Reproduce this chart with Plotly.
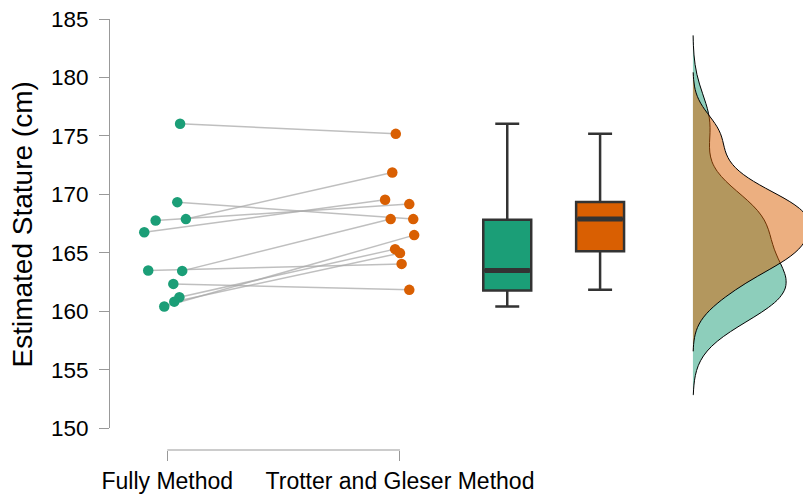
import numpy as np
import plotly.graph_objects as go

# ---- data ----
methods = ["Fully Method", "Trotter and Gleser Method"]
fully = [176.04, 169.34, 167.77, 167.89, 166.77, 163.49, 163.46, 162.35, 161.21, 160.83, 160.41]
trotter = [175.18, 167.89, 169.17, 171.87, 169.54, 164.06, 167.89, 161.84, 165.32, 164.98, 166.52]
jitter_fully = [0.055, 0.043, -0.050, 0.080, -0.099, -0.082, 0.064, 0.026, 0.052, 0.030, -0.013]
jitter_trotter = [-0.018, 0.057, 0.040, -0.033, -0.064, 0.007, -0.040, 0.040, -0.021, 0.0, 0.061]
y_ticks = [150, 155, 160, 165, 170, 175, 180, 185]

colors = ["#1b9e77", "#d95f02"]
dens_fill = ["rgba(27,158,119,0.5)", "rgba(217,95,2,0.5)"]
FONT = "Liberation Sans, Arial, sans-serif"

cat_pos = [1, 2]
box_pos = [2.461, 2.860]
dens_pos = 3.259
box_w = 0.206

series = [fully, trotter]
jitters = [jitter_fully, jitter_trotter]


def nrd0(v):
    v = np.asarray(v, dtype=float)
    sd = v.std(ddof=1)
    q75, q25 = np.percentile(v, [75, 25])
    lo = min(sd, (q75 - q25) / 1.34)
    return 0.9 * lo * len(v) ** -0.2


fig = go.Figure()

# density (half violins), shared density scale (width left automatic so scalegroup applies)
for vals, fc, nm in zip(series, dens_fill, methods):
    bw = nrd0(vals)
    fig.add_trace(go.Violin(
        y=vals, x0=dens_pos, name=nm, side="positive", orientation="v",
        bandwidth=bw, spanmode="manual", span=[min(vals) - 3 * bw, max(vals) + 3 * bw],
        scalegroup="dens", scalemode="width",
        fillcolor=fc, line=dict(color="black", width=1),
        points=False, box_visible=False, meanline_visible=False,
        showlegend=False, hoverinfo="skip",
    ))

# box plots
for vals, c, p, nm in zip(series, colors, box_pos, methods):
    fig.add_trace(go.Box(
        y=vals, x0=p, name=nm, width=box_w, quartilemethod="inclusive",
        boxpoints=False, fillcolor=c, line=dict(color="#333333", width=2.5),
        whiskerwidth=0.5, showlegend=False, hoverinfo="skip",
    ))
    med = float(np.median(vals))
    fig.add_trace(go.Scatter(
        x=[p - box_w / 2 + 0.006, p + box_w / 2 - 0.006], y=[med, med], mode="lines",
        line=dict(color="#333333", width=5), showlegend=False, hoverinfo="skip",
    ))

# connecting lines
lx, ly = [], []
for a, b, ja, jb in zip(fully, trotter, jitter_fully, jitter_trotter):
    lx += [cat_pos[0] + ja, cat_pos[1] + jb, None]
    ly += [a, b, None]
fig.add_trace(go.Scatter(x=lx, y=ly, mode="lines",
                         line=dict(color="rgba(170,170,170,0.75)", width=1.5),
                         showlegend=False, hoverinfo="skip"))

# points
for vals, jit, c, p, nm in zip(series, jitters, colors, cat_pos, methods):
    fig.add_trace(go.Scatter(
        x=[p + j for j in jit], y=vals, mode="markers", name=nm,
        marker=dict(color=c, size=10.5, line=dict(width=0)), showlegend=False,
    ))

H = 496
mt, mb = 19, 0
ph = H - mt - mb
ydom0 = (H - 428.3) / ph
xpos = (H - 450) / ph

fig.update_layout(
    width=803, height=496,
    margin=dict(l=110, r=0, t=mt, b=mb, autoexpand=False),
    paper_bgcolor="white", plot_bgcolor="white",
    font=dict(family=FONT, color="black"),
    violinmode="overlay", violingap=0, violingroupgap=0,
    xaxis=dict(range=[0.7538, 3.732], tickvals=cat_pos, ticktext=methods,
               showgrid=False, zeroline=False, showline=False,
               ticks="outside", ticklen=10, tickcolor="#999999", tickwidth=1,
               tickfont=dict(size=23, family=FONT, color="black"),
               anchor="free", position=xpos, fixedrange=True, automargin=False),
    yaxis=dict(range=[150, 185], tickvals=y_ticks, domain=[ydom0, 1],
               showgrid=False, zeroline=False, showline=True, linecolor="#999999",
               linewidth=1, ticks="outside", ticklen=10, tickcolor="#999999", ticklabelstandoff=6,
               tickfont=dict(size=22.5, family=FONT, color="black"), automargin=False),
    shapes=[dict(type="line", xref="x", yref="paper", x0=cat_pos[0], x1=cat_pos[1],
                 y0=xpos, y1=xpos, line=dict(color="#999999", width=1))],
    annotations=[dict(text="Estimated Stature (cm)", textangle=-90, xref="paper", yref="paper",
                      x=(21.5 - 110) / 693, y=(H - 225) / ph, xanchor="center", yanchor="middle",
                      showarrow=False, font=dict(size=28, family=FONT, color="black"))],
)

fig.write_html("out.html", config={"displayModeBar": False},
               post_script="document.body.style.margin='0';document.body.style.overflow='hidden';")
